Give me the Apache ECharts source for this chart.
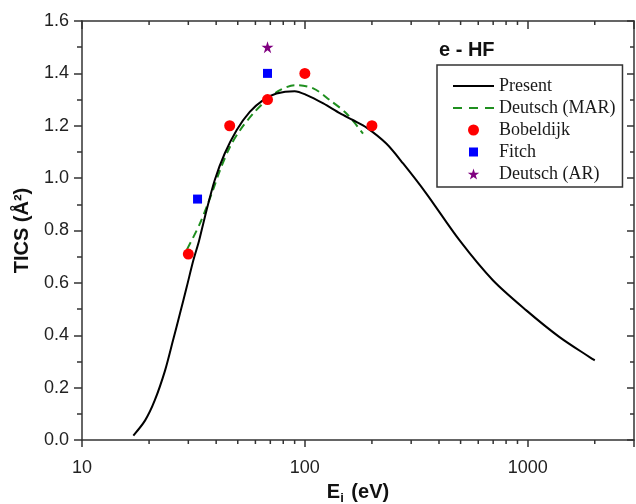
<!DOCTYPE html>
<html>
<head>
<meta charset="utf-8">
<script src="https://cdn.jsdelivr.net/npm/echarts@6/dist/echarts.min.js"></script>
<style>
html,body{margin:0;padding:0;background:#fff;}
#chart{width:636px;height:504px;}
</style>
</head>
<body>
<div id="chart"></div>
<script>
// ---- data ----
const presentE = [17.0, 19.2, 21.2, 23.6, 25.6, 27.5, 29.5, 31.6, 33.5, 35.6, 39.4, 43.7, 49.4, 56.6, 65, 74.6, 90, 102, 121, 144, 165, 190, 232, 276, 351, 495, 698, 986, 1390, 2000];
const presentT = [0.017, 0.075, 0.151, 0.266, 0.380, 0.482, 0.584, 0.686, 0.760, 0.852, 0.992, 1.094, 1.183, 1.253, 1.298, 1.323, 1.332, 1.317, 1.285, 1.247, 1.221, 1.192, 1.132, 1.056, 0.941, 0.762, 0.610, 0.495, 0.393, 0.304];

const marE = [29.6, 33.8, 38.2, 41.6, 46.1, 51.2, 58.7, 67.3, 77.3, 90.2, 109, 129.4, 153.7, 182.4];
const marT = [0.728, 0.826, 0.941, 1.030, 1.119, 1.183, 1.247, 1.298, 1.336, 1.355, 1.343, 1.298, 1.247, 1.170];

const bobE = [30, 46, 68, 100, 200];
const bobT = [0.71, 1.2, 1.3, 1.4, 1.2];

const fitchE = [33, 68];
const fitchT = [0.92, 1.4];

const arE = [68];
const arT = [1.5];

const xMajorLabels = [10, 100, 1000];
const xMinorTicks = [20, 30, 40, 50, 60, 70, 80, 90, 200, 300, 400, 500, 600, 700, 800, 900, 2000];
const xMin = 10, xMax = 3000, yMin = 0, yMax = 1.6, yStep = 0.2;

// ---- chart ----
const zip = (a, b) => a.map((v, i) => [v, b[i]]);
const SANS = "'Liberation Sans', Arial, sans-serif";
const SERIF = "'Liberation Serif', 'Times New Roman', serif";
const AX = '#333';
const starPath = 'path://M50,0 L61.2,34.5 L97.6,34.5 L68.2,55.9 L79.4,90.5 L50,69.1 L20.6,90.5 L31.8,55.9 L2.4,34.5 L38.8,34.5 Z';
// legend icons in a 41x11 box (corner points fix the bounding box)
const box = 'M0,0 L0.01,0 Z M41,11 L40.99,11 Z ';
const iconSolid = 'path://' + box + 'M0,4.5 L41,4.5 L41,6.5 L0,6.5 Z';
const iconDash = 'path://' + box + 'M0,4.5 L9,4.5 L9,6.5 L0,6.5 Z M16,4.5 L25,4.5 L25,6.5 L16,6.5 Z M32,4.5 L41,4.5 L41,6.5 L32,6.5 Z';
const iconSquare = 'path://' + box + 'M16,1 L25,1 L25,10 L16,10 Z';

const chart = echarts.init(document.getElementById('chart'), null, {renderer: 'canvas'});
chart.setOption({
  animation: false,
  backgroundColor: '#fff',
  grid: {left: 82, right: 2, top: 21, bottom: 64, containLabel: false, outerBoundsMode: 'none'},
  title: {
    text: 'e - HF', left: 439, top: 40, padding: 0,
    textStyle: {fontFamily: SANS, fontWeight: 'bold', fontSize: 20, color: '#111'}
  },
  legend: {
    orient: 'vertical', left: 437, top: 65,
    padding: [12, 7, 4, 16],
    borderColor: AX, borderWidth: 1.5,
    itemWidth: 41, itemHeight: 11, itemGap: 4,
    itemStyle: {borderWidth: 0},
    textStyle: {fontFamily: SERIF, fontSize: 18, color: '#1a1a1a', lineHeight: 18},
    data: [
      {name: 'Present', icon: iconSolid},
      {name: 'Deutsch (MAR)', icon: iconDash},
      {name: 'Bobeldijk', icon: 'circle'},
      {name: 'Fitch', icon: iconSquare},
      {name: 'Deutsch (AR)', icon: starPath}
    ]
  },
  xAxis: [{
    type: 'log', logBase: 10, min: xMin, max: xMax, position: 'bottom',
    name: 'E{sub|i} (eV)', nameLocation: 'middle', nameGap: 40,
    nameTextStyle: {
      fontFamily: SANS, fontWeight: 'bold', fontSize: 20, color: '#111',
      rich: {sub: {fontFamily: SANS, fontWeight: 'bold', fontSize: 13, color: '#111', padding: [12, 2, 0, 0]}}
    },
    axisLine: {show: true, onZero: false, lineStyle: {color: AX, width: 1.5}},
    axisTick: {show: true, inside: false, length: 7, lineStyle: {color: AX, width: 1.5}},
    axisLabel: {
      fontFamily: SANS, fontSize: 18, color: '#222', margin: 19,
      formatter: v => (xMajorLabels.indexOf(Math.round(v)) >= 0 ? String(Math.round(v)) : '')
    },
    splitLine: {show: false}
  }, {
    type: 'log', logBase: 10, min: xMin, max: xMax, position: 'top',
    axisLine: {show: true, onZero: false, lineStyle: {color: AX, width: 1.5}},
    axisTick: {show: true, inside: true, length: 8, lineStyle: {color: AX, width: 1.5}},
    axisLabel: {show: false},
    splitLine: {show: false}
  }],
  yAxis: [{
    type: 'value', min: yMin, max: yMax, interval: yStep, position: 'left',
    name: 'TICS (Å²)', nameLocation: 'middle', nameGap: 50, nameRotate: 90,
    nameTextStyle: {fontFamily: SANS, fontWeight: 'bold', fontSize: 20, color: '#111'},
    axisLine: {show: true, onZero: false, lineStyle: {color: AX, width: 1.5}},
    axisTick: {show: true, inside: false, length: 8, lineStyle: {color: AX, width: 1.5}},
    minorTick: {show: true, splitNumber: 2, length: 5, lineStyle: {color: AX, width: 1.5}},
    axisLabel: {fontFamily: SANS, fontSize: 18, color: '#222', margin: 13, formatter: v => v.toFixed(1)},
    splitLine: {show: false}
  }, {
    type: 'value', min: yMin, max: yMax, interval: yStep, position: 'right',
    axisLine: {show: true, onZero: false, lineStyle: {color: AX, width: 1.5}},
    axisTick: {show: true, inside: true, length: 7, lineStyle: {color: AX, width: 1.5}},
    minorTick: {show: true, splitNumber: 2, length: 4, lineStyle: {color: AX, width: 1.5}},
    axisLabel: {show: false},
    splitLine: {show: false}
  }],
  series: [
    {
      name: 'x minor ticks', type: 'custom', silent: true, xAxisIndex: 0, yAxisIndex: 0,
      data: xMinorTicks.map(v => [v, yMin]),
      renderItem: function (params, api) {
        const v = api.value(0);
        const pb = api.coord([v, yMin]);
        const pt = api.coord([v, yMax]);
        const st = {stroke: AX, lineWidth: 1.5};
        return {type: 'group', children: [
          {type: 'line', shape: {x1: pb[0], y1: pb[1], x2: pb[0], y2: pb[1] + 4}, style: st},
          {type: 'line', shape: {x1: pt[0], y1: pt[1], x2: pt[0], y2: pt[1] + 4}, style: st}
        ]};
      },
      z: 1
    },
    {
      name: 'Deutsch (MAR)', type: 'line', data: zip(marE, marT), smooth: 0.3,
      symbol: 'none', lineStyle: {color: '#1f8f1f', width: 2, type: [8, 5]},
      itemStyle: {color: '#1f8f1f'}, z: 2
    },
    {
      name: 'Present', type: 'line', data: zip(presentE, presentT), smooth: 0.3,
      symbol: 'none', lineStyle: {color: '#000', width: 2},
      itemStyle: {color: '#000'}, z: 3
    },
    {
      name: 'Bobeldijk', type: 'scatter', data: zip(bobE, bobT),
      symbol: 'circle', symbolSize: 11, itemStyle: {color: '#ff0000', opacity: 1}, z: 4
    },
    {
      name: 'Fitch', type: 'scatter', data: zip(fitchE, fitchT),
      symbol: 'rect', symbolSize: 9, itemStyle: {color: '#0000ff', opacity: 1}, z: 4
    },
    {
      name: 'Deutsch (AR)', type: 'scatter', data: zip(arE, arT),
      symbol: starPath, symbolSize: 12, itemStyle: {color: '#800080', opacity: 1}, z: 4
    }
  ]
});
</script>
</body>
</html>
